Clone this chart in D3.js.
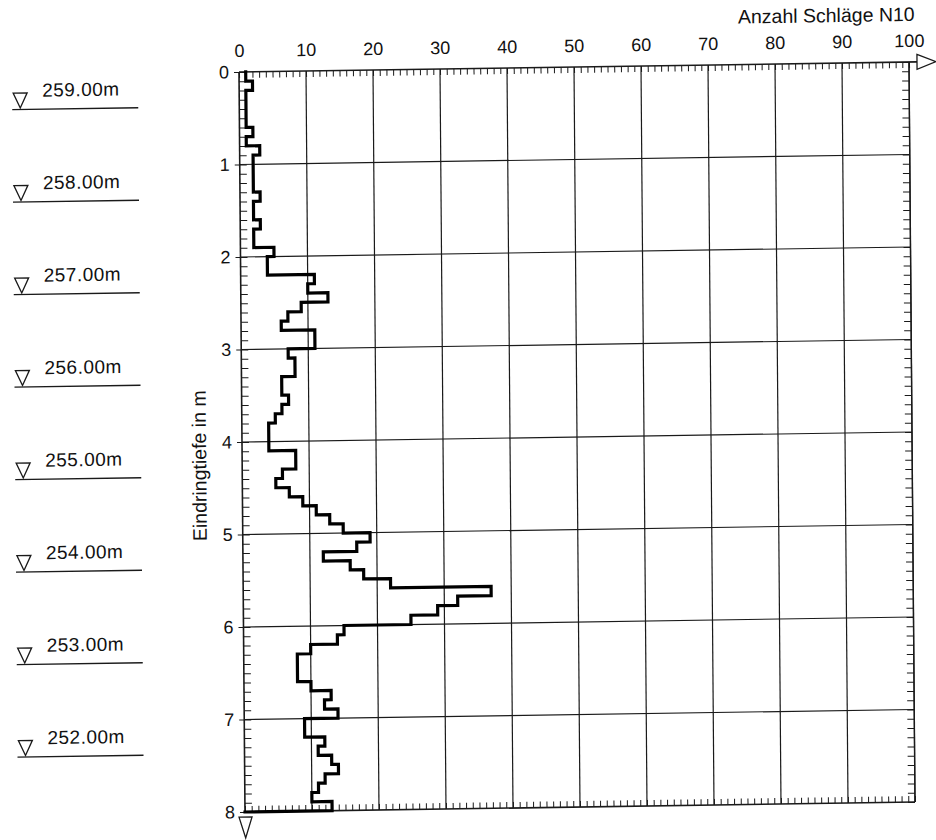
<!DOCTYPE html>
<html><head><meta charset="utf-8">
<script src="https://cdn.jsdelivr.net/npm/d3@7"></script>
<style>
body{margin:0;background:#fff}
svg text{font-family:"Liberation Sans",Arial,sans-serif;fill:#111}
</style></head><body>
<svg id="c" width="936" height="840"></svg>
<script>
// ---- data ----
const depthTop = [0.0,0.1,0.2,0.3,0.4,0.5,0.6,0.7,0.8,0.9,
  1.0,1.1,1.2,1.3,1.4,1.5,1.6,1.7,1.8,1.9,
  2.0,2.1,2.2,2.3,2.4,2.5,2.6,2.7,2.8,2.9,
  3.0,3.1,3.2,3.3,3.4,3.5,3.6,3.7,3.8,3.9,
  4.0,4.1,4.2,4.3,4.4,4.5,4.6,4.7,4.8,4.9,
  5.0,5.1,5.2,5.3,5.4,5.5,5.6,5.7,5.8,5.9,
  6.0,6.1,6.2,6.3,6.4,6.5,6.6,6.7,6.8,6.9,
  7.0,7.1,7.2,7.3,7.4,7.5,7.6,7.7,7.8,7.9];
const blows = [1,2,1,1,1,1,2,1,3,2,
  2,2,2,3,2,2,3,2,2,5,
  4,4,11,10,13,9,7,6,11,11,
  7,8,8,6,6,7,6,5,4,4,
  4,8,8,6,5,7,9,11,13,15,
  19,17,12,16,18,22,37,32,29,25,
  15,14,10,8,8,8,10,13,12,14,
  9,9,12,11,13,14,12,11,10,13];
const maxDepth = 8;
const xTickLabels = [0,10,20,30,40,50,60,70,80,90,100];
const depthLabels = [0,1,2,3,4,5,6,7,8];
const elevations = [259,258,257,256,255,254,253,252];
const groundElevation = 259.37;
const xTitle = "Anzahl Schläge N10";
const yTitle = "Eindringtiefe in m";

// ---- layout ----
const W = 670, H = 740;
const svg = d3.select("#c");
svg.append("rect").attr("width",936).attr("height",840).attr("fill","#fff");
// slight skew of the scanned sheet
const g = svg.append("g").attr("transform","matrix(1,-0.0149,0.0081,1,239,72)");

const x = d3.scaleLinear().domain([0,100]).range([0,W]);
const y = d3.scaleLinear().domain([0,maxDepth]).range([0,H]);
const ink = "#1a1a1a";

// grid
g.append("g").selectAll("line").data(xTickLabels.filter(d=>d>0)).join("line")
  .attr("x1",d=>x(d)).attr("x2",d=>x(d)).attr("y1",y(0)).attr("y2",y(maxDepth))
  .attr("stroke",ink).attr("stroke-width",1.2);
g.append("g").selectAll("line").data(depthLabels.filter(d=>d>0&&d<maxDepth)).join("line")
  .attr("x1",x(0)).attr("x2",x(100)).attr("y1",d=>y(d)).attr("y2",d=>y(d))
  .attr("stroke",ink).attr("stroke-width",1.2);

function styleAxis(sel, fs){
  sel.select(".domain").remove();
  sel.selectAll(".tick line").attr("stroke",ink).attr("stroke-width",1);
  sel.selectAll("text").attr("font-size",fs).attr("fill","#111")
     .attr("font-family",'"Liberation Sans",Arial,sans-serif');
}
const unitTicks = d3.range(0,101,1);
const depthTicks = depthTop.concat([maxDepth]);

// minor ticks
g.append("g").call(d3.axisTop(x).tickValues(unitTicks).tickSize(-6).tickFormat(""))
  .call(s=>styleAxis(s,18));
g.append("g").attr("transform",`translate(0,${H})`)
  .call(d3.axisBottom(x).tickValues(unitTicks).tickSize(-6).tickFormat(""))
  .call(s=>styleAxis(s,18));
g.append("g").call(d3.axisLeft(y).tickValues(depthTicks).tickSize(-7).tickFormat(""))
  .call(s=>styleAxis(s,18));
g.append("g").attr("transform",`translate(${W},0)`)
  .call(d3.axisRight(y).tickValues(depthTicks).tickSize(-7).tickFormat(""))
  .call(s=>styleAxis(s,18));

// labels
g.append("g").call(d3.axisTop(x).tickValues(xTickLabels).tickSize(0).tickPadding(15))
  .call(s=>styleAxis(s,18));
g.append("g").call(d3.axisLeft(y).tickValues(depthLabels).tickSize(5).tickPadding(5))
  .call(s=>styleAxis(s,18));

// frame
const frame = g.append("g").attr("stroke",ink).attr("fill","none");
frame.append("line").attr("x1",x(0)).attr("x2",x(100)+8).attr("y1",y(0)).attr("y2",y(0)).attr("stroke-width",1.6);
frame.append("line").attr("x1",x(0)).attr("x2",x(0)).attr("y1",y(0)).attr("y2",y(maxDepth)).attr("stroke-width",1.6);
frame.append("line").attr("x1",x(100)).attr("x2",x(100)).attr("y1",y(0)).attr("y2",y(maxDepth)).attr("stroke-width",1.4);
frame.append("line").attr("x1",x(0)).attr("x2",x(100)).attr("y1",y(maxDepth)).attr("y2",y(maxDepth)).attr("stroke-width",1.6);
// arrow at end of x axis
frame.append("path").attr("stroke-width",1.3).attr("fill","#fff")
  .attr("d",`M${x(100)+8},${y(0)-7.5}L${x(100)+27},${y(0)}L${x(100)+8},${y(0)+7.5}Z`);
// triangle under depth axis
frame.append("path").attr("stroke-width",1.3).attr("fill","#fff")
  .attr("d",`M${x(0)-6},${y(maxDepth)+5}L${x(0)+7},${y(maxDepth)+5}L${x(0)+0.5},${y(maxDepth)+26}Z`);

// titles
g.append("text").attr("x",x(100)+6).attr("y",-41).attr("text-anchor","end")
  .attr("font-size",19.5).attr("fill","#111").text(xTitle);
g.append("text").attr("transform",`translate(-36,${y(4.25)}) rotate(-90)`)
  .attr("text-anchor","middle").attr("font-size",19.5).attr("fill","#111").text(yTitle);

// step line
const pts = [];
blows.forEach((b,i)=>{
  const top = depthTop[i];
  const bot = i < depthTop.length-1 ? depthTop[i+1] : maxDepth;
  pts.push([b,top]); pts.push([b,bot]);
});
pts.push([0,maxDepth]);
g.append("path").datum(pts)
  .attr("d",d3.line().x(d=>x(d[0])).y(d=>y(d[1])))
  .attr("fill","none").attr("stroke","#000").attr("stroke-width",3.2)
  .attr("stroke-linejoin","miter").attr("stroke-linecap","square");

// elevation markers
const elevY = e => y(groundElevation - e);
const em = g.append("g").selectAll("g").data(elevations).join("g")
  .attr("transform",d=>`translate(0,${elevY(d)})`);
em.append("line").attr("x1",-227).attr("x2",-101).attr("y1",0).attr("y2",0)
  .attr("stroke",ink).attr("stroke-width",1.4);
em.append("path").attr("d","M-226,-16.5L-212,-16.5L-219,-1.5Z")
  .attr("fill","none").attr("stroke",ink).attr("stroke-width",1.3);
em.append("text").attr("x",-197).attr("y",-12.5).attr("font-size",19).attr("fill","#111")
  .attr("letter-spacing",0.5).text(d=>d.toFixed(2)+"m");
</script>
</body></html>
